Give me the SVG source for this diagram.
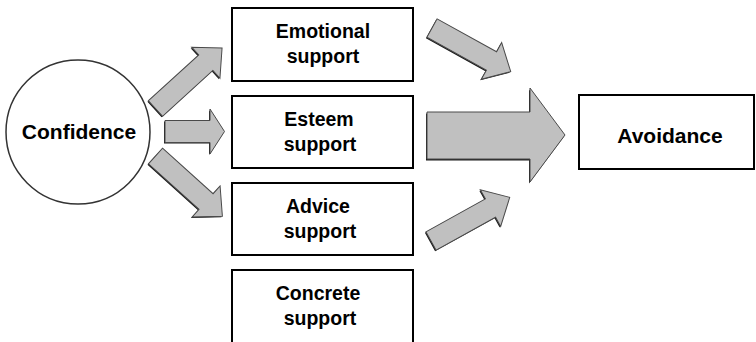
<svg xmlns="http://www.w3.org/2000/svg" xmlns:xlink="http://www.w3.org/1999/xlink" width="756" height="342" viewBox="0 0 756 342">
  <style>
    .box { fill: #ffffff; stroke: #000000; stroke-width: 2; }
    .ring { fill: #ffffff; stroke: #333333; stroke-width: 1.5; }
    .label { font-family: "Liberation Sans", Arial, Helvetica, sans-serif; font-weight: bold; fill: #000000; text-anchor: middle; }
    .arrow { fill: #c0c0c0; stroke: #4a4a4a; stroke-width: 1; stroke-linejoin: miter; }
    .shade { fill: #1a1a1a; stroke: none; }
  </style>
  <defs>
    <!-- block arrow pointing along +x, tail centred at the origin -->
    <polygon id="diag" points="0,-10.5 68,-10.5 68,-21 90,0 68,21 68,10.5 0,10.5"/>
    <polygon id="mid" points="165,120.5 210,120.5 210,109 224.5,131.5 210,154 210,142.5 165,142.5"/>
    <polygon id="big" points="427,112 530,112 530,88 565,135 530,182 530,159 427,159"/>
  </defs>

  <!-- block arrows -->
  <g id="connectors">
    <g transform="translate(155.5,108.5) rotate(-42.3)">
      <use xlink:href="#diag" class="shade" transform="rotate(42.3) translate(-1,1) rotate(-42.3)"/>
      <use xlink:href="#diag" class="arrow"/>
    </g>
    <use xlink:href="#mid" class="shade" transform="translate(-1,1)"/>
    <use xlink:href="#mid" class="arrow"/>
    <g transform="translate(155.5,156) rotate(42)">
      <use xlink:href="#diag" class="shade" transform="rotate(-42) translate(-1,1) rotate(42)"/>
      <use xlink:href="#diag" class="arrow"/>
    </g>
    <g transform="translate(432,28) rotate(29)">
      <use xlink:href="#diag" class="shade" transform="rotate(-29) translate(-1,1) rotate(29)"/>
      <use xlink:href="#diag" class="arrow"/>
    </g>
    <use xlink:href="#big" class="shade" transform="translate(-1,1.5)"/>
    <use xlink:href="#big" class="arrow"/>
    <g transform="translate(431,241) rotate(-29)">
      <use xlink:href="#diag" class="shade" transform="rotate(29) translate(-1,1) rotate(-29)"/>
      <use xlink:href="#diag" class="arrow"/>
    </g>
  </g>

  <g id="confidence">
    <circle class="ring" cx="78" cy="132" r="72"/>
    <text class="label" x="79" y="139" font-size="21">Confidence</text>
  </g>

  <g id="emotional">
    <rect class="box" x="232" y="8" width="181" height="73"/>
    <text class="label" x="323" y="38" font-size="19.5">Emotional</text>
    <text class="label" x="323" y="63" font-size="19.5">support</text>
  </g>

  <g id="esteem">
    <rect class="box" x="232" y="96" width="181" height="72"/>
    <text class="label" x="319" y="126" font-size="19.5">Esteem</text>
    <text class="label" x="320" y="151" font-size="19.5">support</text>
  </g>

  <g id="advice">
    <rect class="box" x="232" y="183" width="181" height="72"/>
    <text class="label" x="318" y="213" font-size="19.5">Advice</text>
    <text class="label" x="320" y="238" font-size="19.5">support</text>
  </g>

  <g id="concrete">
    <rect class="box" x="232" y="270" width="181" height="90"/>
    <text class="label" x="318" y="300" font-size="19.5">Concrete</text>
    <text class="label" x="320" y="325" font-size="19.5">support</text>
  </g>

  <g id="avoidance">
    <rect class="box" x="579" y="95" width="175" height="74"/>
    <text class="label" x="670" y="143" font-size="21">Avoidance</text>
  </g>
</svg>
